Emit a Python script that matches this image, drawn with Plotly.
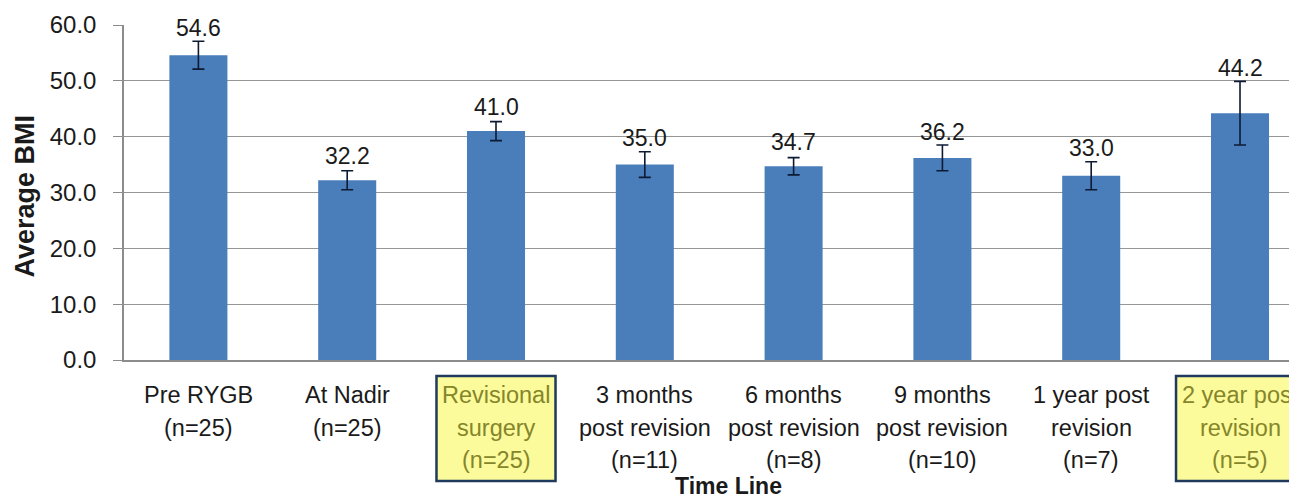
import plotly.graph_objects as go

# ---- data ----
categories = ["Pre RYGB", "At Nadir", "Revisional surgery", "3 months post revision",
              "6 months post revision", "9 months post revision", "1 year post revision",
              "2 year post revision"]
label_lines = [
    ["Pre RYGB", "(n=25)"],
    ["At Nadir", "(n=25)"],
    ["Revisional", "surgery", "(n=25)"],
    ["3 months", "post revision", "(n=11)"],
    ["6 months", "post revision", "(n=8)"],
    ["9 months", "post revision", "(n=10)"],
    ["1 year post", "revision", "(n=7)"],
    ["2 year post", "revision", "(n=5)"],
]
avg_bmi = [54.6, 32.2, 41.0, 35.0, 34.7, 36.2, 33.0, 44.2]
bmi_err = [2.5, 1.7, 1.7, 2.3, 1.55, 2.3, 2.5, 5.7]
highlighted = ["Revisional surgery", "2 year post revision"]
y_ticks = [0, 10, 20, 30, 40, 50, 60]

FONT = "Liberation Sans, Arial, sans-serif"
TXT = "#1a1a1a"
BAR = "#4A7EBB"
HL_TEXT = "#85852a"
HL_FILL = "#FBFB9C"
HL_BORDER = "#1F3A5C"

# page body has an 8px margin; the figure is sized so the plot lands where the reference has it
PAGE_OFF = 8
PLOT_LEFT = 124
PLOT_W = 1297 - PLOT_LEFT

fig = go.Figure()
fig.add_trace(go.Bar(
    x=categories, y=avg_bmi, width=0.39,
    marker=dict(color=BAR, line=dict(width=0)),
    error_y=dict(type="data", array=bmi_err, visible=True,
                 color="#0d1a33", thickness=1.6, width=6),
    hoverinfo="skip",
))

annotations = []
shapes = []
# value labels above bars / error bars
for c, v, e in zip(categories, avg_bmi, bmi_err):
    ylab = max(v + 1.6, v + e - 0.3)
    annotations.append(dict(x=c, y=ylab, xref="x", yref="y", text=f"{v:.1f}",
                            showarrow=False, yanchor="bottom",
                            font=dict(family=FONT, size=23, color=TXT)))

# category labels (multi-line)
line_offsets = [-35, -67.5, -100]
for c, lines in zip(categories, label_lines):
    hl = c in highlighted
    for j, t in enumerate(lines):
        annotations.append(dict(x=c, y=0, xref="x", yref="paper", text=t,
                                showarrow=False, yanchor="middle", yshift=line_offsets[j],
                                font=dict(family=FONT, size=23.5,
                                          color=HL_TEXT if hl else TXT)))
    if hl:
        idx = categories.index(c)
        half = 0.40 if len(lines[0]) < 11 else 0.43
        shapes.append(dict(type="rect", xref="x", yref="paper",
                           x0=idx - half, x1=idx + half,
                           ysizemode="pixel", yanchor=0, y0=-16, y1=-121,
                           fillcolor=HL_FILL, line=dict(color=HL_BORDER, width=2.5),
                           layer="below"))

# axis titles
annotations.append(dict(x=0, y=0.5, xref="paper", yref="paper", xshift=-100, yshift=-4,
                        text="<b>Average BMI</b>", textangle=-90, showarrow=False,
                        xanchor="center", yanchor="middle",
                        font=dict(family=FONT, size=27, color=TXT)))
annotations.append(dict(x=0.5, y=0, xref="paper", yref="paper", yshift=-126,
                        xshift=(728 - (PLOT_LEFT + PLOT_W / 2)),
                        text="<b>Time Line</b>", showarrow=False,
                        xanchor="center", yanchor="middle",
                        font=dict(family=FONT, size=23, color=TXT)))

fig.update_layout(
    width=1297 - PAGE_OFF, height=498 - PAGE_OFF,
    margin=dict(l=PLOT_LEFT - PAGE_OFF, r=0, t=25 - PAGE_OFF, b=138),
    plot_bgcolor="white", paper_bgcolor="white",
    showlegend=False,
    annotations=annotations,
    shapes=shapes,
    xaxis=dict(type="category", range=[-0.5, 7.383], showticklabels=False,
               showline=True, linecolor="#8c8c8c", linewidth=1.5,
               showgrid=False, ticks="", zeroline=False),
    yaxis=dict(range=[0, 60], tickvals=y_ticks, ticktext=[f"{t:.1f}" for t in y_ticks],
               showgrid=True, gridcolor="#969696", gridwidth=1.3,
               showline=True, linecolor="#8c8c8c", linewidth=1.5,
               ticks="outside", ticklen=9, tickcolor="#8c8c8c", tickwidth=1.2,
               ticklabelstandoff=12, zeroline=False,
               tickfont=dict(family=FONT, size=24, color=TXT)),
)

fig.write_html("out.html")
